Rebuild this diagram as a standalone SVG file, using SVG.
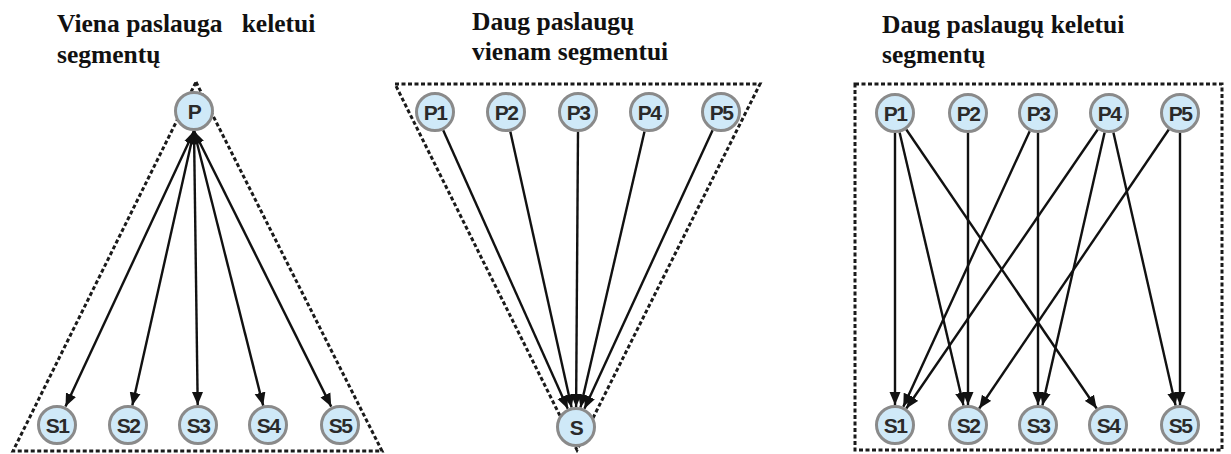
<svg xmlns="http://www.w3.org/2000/svg" width="1231" height="454" viewBox="0 0 1231 454">
<style>
.title{font-family:"Liberation Serif","Times New Roman",serif;font-weight:bold;font-size:25.5px;fill:#111}
.node circle{fill:#cfe9f8;stroke:#8a8a8a;stroke-width:3}
.node text{font-family:"Liberation Sans",Arial,sans-serif;font-weight:bold;font-size:21px;fill:#2a2a2a;text-anchor:middle;letter-spacing:-1.5px}
.frame{fill:none;stroke:#1a1a1a;stroke-width:3;stroke-dasharray:4 2.5}
.edge{stroke:#111;stroke-width:2.4;fill:none;marker-end:url(#arr)}
.edge1{stroke:#111;stroke-width:2.4;fill:none;marker-end:url(#arr);marker-start:url(#arrS)}
</style>
<defs>
<marker id="arr" markerUnits="userSpaceOnUse" markerWidth="14" markerHeight="12" refX="13" refY="6" orient="auto">
<path d="M0,0.5 L13,6 L0,11.5 Z" fill="#111"/>
</marker>
<marker id="arrS" markerUnits="userSpaceOnUse" markerWidth="14" markerHeight="12" refX="13" refY="6" orient="auto-start-reverse">
<path d="M0,1.5 L13,6 L0,10.5 Z" fill="#111"/>
</marker>
</defs>

<g id="titles">
<text class="title" x="57" y="32" xml:space="preserve">Viena paslauga   keletui</text>
<text class="title" x="57" y="63">segmentų</text>
<text class="title" x="472" y="30">Daug paslaugų</text>
<text class="title" x="472" y="60">vienam segmentui</text>
<text class="title" x="882" y="33">Daug paslaugų keletui</text>
<text class="title" x="882" y="63">segmentų</text>
</g>

<g id="frames">
<polygon class="frame" points="196,82 382,451 13,451"/>
<polygon class="frame" points="395,84 760,84 577,450"/>
<rect class="frame" x="855" y="84" width="367" height="366"/>
</g>

<g id="connectors">
<line class="edge1" x1="194" y1="131" x2="65.5" y2="406.5"/>
<line class="edge1" x1="194" y1="131" x2="132.3" y2="405.5"/>
<line class="edge1" x1="194" y1="131" x2="197.7" y2="405"/>
<line class="edge1" x1="194" y1="131" x2="263.2" y2="405.6"/>
<line class="edge1" x1="194" y1="131" x2="331.2" y2="406.6"/>

<line class="edge" x1="443.2" y1="130.3" x2="567.8" y2="408.7"/>
<line class="edge" x1="510.3" y1="131.5" x2="571.6" y2="407.5"/>
<line class="edge" x1="578" y1="132" x2="576.1" y2="407"/>
<line class="edge" x1="644.5" y1="131.5" x2="580.5" y2="407.5"/>
<line class="edge" x1="712.6" y1="130.2" x2="584.4" y2="408.7"/>

<line class="edge" x1="895" y1="133" x2="895" y2="405"/>
<line class="edge" x1="899.6" y1="132.5" x2="963.5" y2="405.5"/>
<line class="edge" x1="906.3" y1="129.5" x2="1096.7" y2="408.5"/>
<line class="edge" x1="968" y1="133" x2="968" y2="405"/>
<line class="edge" x1="1029.7" y1="131.2" x2="903.3" y2="406.8"/>
<line class="edge" x1="1038" y1="133" x2="1038" y2="405"/>
<line class="edge" x1="1097.7" y1="129.5" x2="906.3" y2="408.5"/>
<line class="edge" x1="1104.6" y1="132.5" x2="1042.4" y2="405.5"/>
<line class="edge" x1="1113.4" y1="132.5" x2="1175.6" y2="405.5"/>
<line class="edge" x1="1168.8" y1="129.5" x2="979.2" y2="408.5"/>
<line class="edge" x1="1180" y1="133" x2="1180" y2="405"/>
</g>

<g id="a_P" class="node"><circle cx="194" cy="111" r="18.5"/><text x="194" y="118.5">P</text></g>
<g id="a_S1" class="node"><circle cx="57" cy="425" r="18.5"/><text x="57" y="432.5">S1</text></g>
<g id="a_S2" class="node"><circle cx="128" cy="425" r="18.5"/><text x="128" y="432.5">S2</text></g>
<g id="a_S3" class="node"><circle cx="198" cy="425" r="18.5"/><text x="198" y="432.5">S3</text></g>
<g id="a_S4" class="node"><circle cx="268" cy="425" r="18.5"/><text x="268" y="432.5">S4</text></g>
<g id="a_S5" class="node"><circle cx="340" cy="425" r="18.5"/><text x="340" y="432.5">S5</text></g>

<g id="b_P1" class="node"><circle cx="435" cy="112" r="18.5"/><text x="435" y="119.5">P1</text></g>
<g id="b_P2" class="node"><circle cx="506" cy="112" r="18.5"/><text x="506" y="119.5">P2</text></g>
<g id="b_P3" class="node"><circle cx="578" cy="112" r="18.5"/><text x="578" y="119.5">P3</text></g>
<g id="b_P4" class="node"><circle cx="649" cy="112" r="18.5"/><text x="649" y="119.5">P4</text></g>
<g id="b_P5" class="node"><circle cx="721" cy="112" r="18.5"/><text x="721" y="119.5">P5</text></g>
<g id="b_S" class="node"><circle cx="576" cy="427" r="18.5"/><text x="576" y="434.5">S</text></g>

<g id="c_P1" class="node"><circle cx="895" cy="113" r="18.5"/><text x="895" y="120.5">P1</text></g>
<g id="c_P2" class="node"><circle cx="968" cy="113" r="18.5"/><text x="968" y="120.5">P2</text></g>
<g id="c_P3" class="node"><circle cx="1038" cy="113" r="18.5"/><text x="1038" y="120.5">P3</text></g>
<g id="c_P4" class="node"><circle cx="1109" cy="113" r="18.5"/><text x="1109" y="120.5">P4</text></g>
<g id="c_P5" class="node"><circle cx="1180" cy="113" r="18.5"/><text x="1180" y="120.5">P5</text></g>
<g id="c_S1" class="node"><circle cx="895" cy="425" r="18.5"/><text x="895" y="432.5">S1</text></g>
<g id="c_S2" class="node"><circle cx="968" cy="425" r="18.5"/><text x="968" y="432.5">S2</text></g>
<g id="c_S3" class="node"><circle cx="1038" cy="425" r="18.5"/><text x="1038" y="432.5">S3</text></g>
<g id="c_S4" class="node"><circle cx="1108" cy="425" r="18.5"/><text x="1108" y="432.5">S4</text></g>
<g id="c_S5" class="node"><circle cx="1180" cy="425" r="18.5"/><text x="1180" y="432.5">S5</text></g>
</svg>
